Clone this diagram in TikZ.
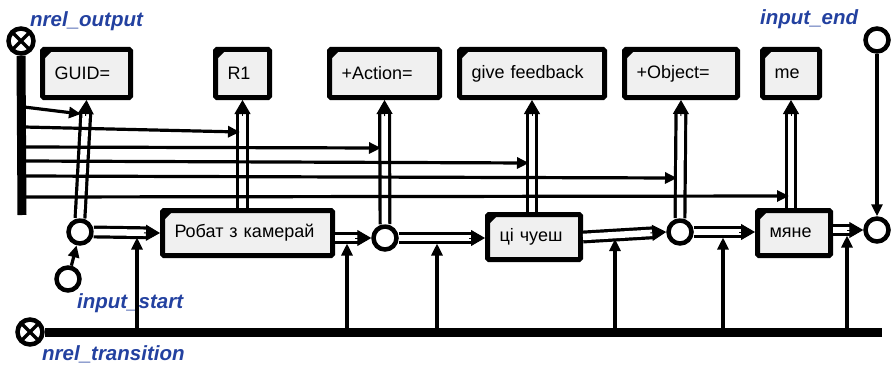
\documentclass[tikz,border=0pt]{standalone}
\usepackage{fontspec}
\setmainfont{Liberation Sans}
\usetikzlibrary{arrows.meta,calc}
\definecolor{labelblue}{RGB}{35,65,160}
\definecolor{boxfill}{RGB}{240,240,240}
\tikzset{
  scbox/.style={draw, line width=5pt, fill=boxfill, rounded corners=1.5pt,
    inner xsep=12pt, inner ysep=0pt, align=left,
    font=\fontsize{18}{20}\selectfont,
    path picture={\fill[black] (path picture bounding box.north west) -- ++(11pt,0pt) -- ++(-11pt,-11pt) -- cycle;}},
  topbox/.style={scbox, minimum height=48pt},
  botbox/.style={scbox, minimum height=45pt},
  scnode/.style={circle, draw, line width=4.5pt, fill=white, minimum size=23pt, inner sep=0pt},
  xnode/.style={scnode, minimum size=25pt,
    path picture={\draw[line width=3.5pt]
      (path picture bounding box.north west) -- (path picture bounding box.south east)
      (path picture bounding box.north east) -- (path picture bounding box.south west);}},
  shaft/.style={draw, double=white, double distance=6.5pt, line width=3.2pt},
  shafttip/.style={-{Triangle[length=14pt,width=16pt]}, line width=1pt},
  thinarrow/.style={line width=3.2pt, -{Triangle[length=12pt,width=11pt]}},
  bar/.style={line width=9pt},
  lbl/.style={text=labelblue, font=\fontsize{20.5}{22}\selectfont\bfseries\itshape, inner sep=0pt, anchor=base west}
}
% hollow double-line arrow with a solid head
\newcommand\hollowar[2]{%
  \draw[shaft, shorten >=12pt] (#1) -- (#2);
  \draw[shafttip] ($(#2)!16pt!(#1)$) -- (#2);
}
\begin{document}
\begin{tikzpicture}[x=1pt, y=-1pt]
\useasboundingbox (0,0) rectangle (894,369);

% upper row of value boxes
\node[topbox, text width=64pt]  (guid)   at (86.5,73.5) {GUID=};
\node[topbox, text width=30pt]  (r1)     at (242.5,73.5) {R1};
\node[topbox, text width=86pt]  (action) at (384.5,73.5) {+Action=};
\node[topbox, text width=121pt] (give)   at (532,73.5) {give feedback};
\node[topbox, text width=89pt]  (object) at (681,73.5) {+Object=};
\node[topbox, text width=33pt]  (me)     at (791,73.5) {me};

% lower row of word boxes
\node[botbox, text width=146pt] (robat)  at (247.5,233) {Робат з камерай};
\node[botbox, text width=69pt]  (ci)     at (534,237) {ці чуеш};
\node[botbox, text width=49pt]  (myane)  at (794,233) {мяне};

% state circles
\node[scnode] (c1)    at (80,232) {};
\node[scnode] (c2)    at (385,238) {};
\node[scnode] (c3)    at (680,232) {};
\node[scnode] (c4)    at (877,230) {};
\node[scnode] (start) at (68,279) {};
\node[scnode] (endc)  at (877,40) {};

% relation markers
\node[xnode] (xtop) at (21,41) {};
\node[xnode] (xbot) at (30,332) {};

% labels
\node[lbl] (lout)   at (30,27)  {nrel\_output};
\node[lbl] (lend)   at (760,25) {input\_end};
\node[lbl] (lstart) at (77,308) {input\_start};
\node[lbl] (ltrans) at (42,360) {nrel\_transition};

% thick relation bars
\coordinate (topbarend) at (22,215);
\coordinate (botbarend) at (882,332);
\draw[bar] (xtop.south) -- (topbarend);
\draw[bar] (xbot.east) -- (botbarend);

% vertical hollow arrows to the upper boxes
\hollowar{c1.north}{guid.south}
\hollowar{r1.south |- robat.north}{r1.south}
\hollowar{c2.north}{action.south}
\hollowar{give.south |- ci.north}{give.south}
\hollowar{c3.north}{object.south}
\hollowar{me.south |- myane.north}{me.south}

% horizontal hollow arrows along the chain
\hollowar{c1.east}{robat.west}
\hollowar{robat.east |- c2}{c2.west}
\hollowar{c2.east}{ci.west |- c2}
\hollowar{ci.east}{c3.west}
\hollowar{c3.east}{myane.west |- c3}
\hollowar{myane.east |- c4}{c4.west}

% output lines from the vertical bar
\coordinate (h1) at (24,107); \coordinate (e1) at (81,114);
\coordinate (h2) at (24,127); \coordinate (e2) at (240,132);
\coordinate (h3) at (24,147); \coordinate (e3) at (381,148);
\coordinate (h4) at (24,161); \coordinate (e4) at (529,163);
\coordinate (h5) at (24,176); \coordinate (e5) at (677,178);
\coordinate (h6) at (24,197); \coordinate (e6) at (789,196);
\foreach \i in {1,...,6} \draw[thinarrow] (h\i) -- (e\i);

% transition lines from the bottom bar
\coordinate (t1) at (137,332);
\coordinate (t2) at (347,332);
\coordinate (t3) at (437,332);
\coordinate (t4) at (615,332);
\coordinate (t5) at (723,332);
\coordinate (t6) at (847,332);
\draw[thinarrow] (t1) -- ($(t1 |- c1)+(0,5.5)$);
\draw[thinarrow] (t2) -- ($(t2 |- c2)+(0,5.5)$);
\draw[thinarrow] (t3) -- ($(t3 |- c2)+(0,5.5)$);
\draw[thinarrow] (t4) -- ($(t4 |- c3)+(0,7)$);
\draw[thinarrow] (t5) -- ($(t5 |- c3)+(0,5.5)$);
\draw[thinarrow] (t6) -- ($(t6 |- c4)+(0,5.5)$);

% entry and exit
\draw[thinarrow] (start) -- (c1);
\draw[thinarrow] (endc) -- (c4);
\end{tikzpicture}
\end{document}
